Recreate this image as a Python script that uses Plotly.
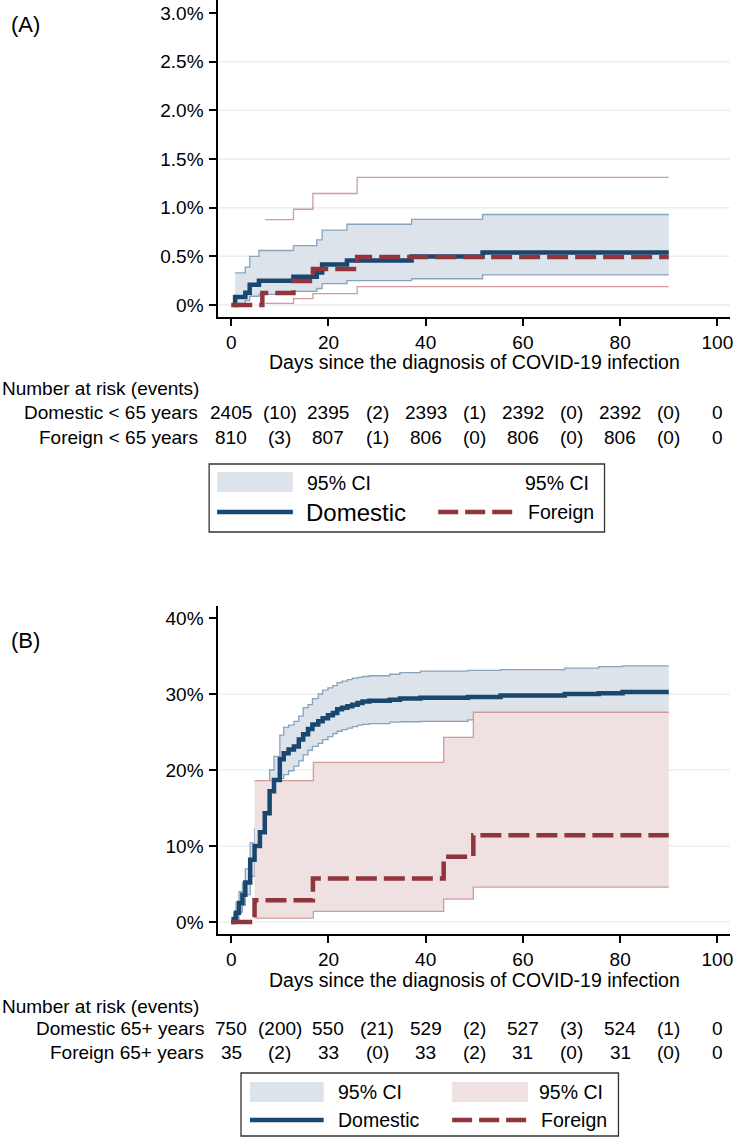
import plotly.graph_objects as go

# ---------------- DATA ----------------
# Panel A (< 65 years), cumulative incidence in %
dom_a_t = [0.5, 0.8, 2.9, 3.8, 5.7, 12.8, 17.6, 18.7, 23.8, 37.1, 51.7, 90]
dom_a_est = [0, 0.083, 0.125, 0.208, 0.249, 0.291, 0.333, 0.416, 0.457, 0.499, 0.540, 0.540]
dom_a_ci_t = [0.8, 2.9, 3.8, 5.7, 12.8, 17.6, 18.7, 23.8, 37.1, 51.7, 90]
dom_a_hi = [0.33, 0.39, 0.50, 0.56, 0.61, 0.67, 0.77, 0.83, 0.88, 0.93, 0.93]
dom_a_lo = [0.017, 0.045, 0.09, 0.11, 0.14, 0.17, 0.22, 0.25, 0.27, 0.31, 0.31]

for_a_t = [0, 6.4, 12.8, 16.8, 25.9, 90]
for_a_est = [0, 0.123, 0.247, 0.370, 0.494, 0.494]
for_a_ci_t = [7.0, 12.8, 16.8, 25.9, 90]
for_a_hi = [0.877, 0.984, 1.146, 1.311, 1.311]
for_a_lo = [0.017, 0.065, 0.117, 0.19, 0.19]

# Panel B (65+ years)
dom_b_t = [0, 0.5, 1.0, 1.6, 2.3, 2.9, 3.9, 4.8, 5.9, 6.9, 7.9, 8.8, 10.0, 10.8, 11.8,
           12.9, 13.9, 14.8, 15.8, 16.7, 17.9, 18.8, 19.9, 20.9, 21.8, 22.8, 23.9, 24.9,
           26.0, 27.0, 28.4, 32.6, 34.7, 38.9, 48.7, 55.4, 68.6, 75.6, 80.5, 90]
dom_b_est = [0, 0.4, 1.2, 2.5, 3.6, 5.2, 8.2, 10.0, 11.8, 14.3, 17.2, 18.7, 21.4, 22.2, 22.7,
             23.1, 24.0, 24.7, 25.4, 26.0, 26.4, 26.8, 27.2, 27.5, 28.0, 28.2, 28.4, 28.6,
             28.8, 29.0, 29.1, 29.25, 29.4, 29.5, 29.6, 29.8, 30.0, 30.1, 30.25, 30.25]
dom_b_hi = [0, 1.3, 2.6, 4.0, 5.2, 7.0, 10.4, 12.3, 14.6, 17.2, 20.0, 21.8, 24.6, 25.6, 25.9,
            26.4, 27.1, 28.2, 28.6, 29.4, 30.0, 30.5, 30.8, 31.1, 31.5, 31.7, 31.9, 32.1,
            32.2, 32.3, 32.4, 32.6, 32.8, 33.0, 33.1, 33.2, 33.4, 33.6, 33.7, 33.7]
dom_b_lo = [0, 0, 0.3, 1.3, 2.2, 3.6, 6.0, 7.8, 9.4, 11.8, 14.6, 16.5, 18.9, 19.4, 19.9,
            20.5, 21.2, 22.0, 22.6, 23.1, 23.5, 24.0, 24.4, 24.8, 25.1, 25.3, 25.5, 25.7,
            25.9, 26.0, 26.1, 26.3, 26.35, 26.4, 26.6, 26.9, 27.1, 27.3, 27.5, 27.5]

for_b_t = [0, 4.8, 16.8, 43.7, 49.8, 90]
for_b_est = [0, 2.86, 5.71, 8.57, 11.43, 11.43]
for_b_ci_t = [4.8, 16.9, 43.7, 49.8, 90]
for_b_hi = [18.6, 21.0, 24.3, 27.6, 27.6]
for_b_lo = [0.5, 1.4, 3.0, 4.6, 4.6]

# Risk tables
risk_days = [0, 20, 40, 60, 80, 100]
event_days = [10, 30, 50, 70, 90]
dom_a_atrisk = [2405, 2395, 2393, 2392, 2392, 0]
dom_a_events = [10, 2, 1, 0, 0]
for_a_atrisk = [810, 807, 806, 806, 806, 0]
for_a_events = [3, 1, 0, 0, 0]
dom_b_atrisk = [750, 550, 529, 527, 524, 0]
dom_b_events = [200, 21, 2, 3, 1]
for_b_atrisk = [35, 33, 33, 31, 31, 0]
for_b_events = [2, 0, 2, 0, 0]

x_ticks = [0, 20, 40, 60, 80, 100]
ya_ticks = [0, 0.5, 1.0, 1.5, 2.0, 2.5, 3.0]
ya_text = ["0%", "0.5%", "1.0%", "1.5%", "2.0%", "2.5%", "3.0%"]
yb_ticks = [0, 10, 20, 30, 40]
yb_text = ["0%", "10%", "20%", "30%", "40%"]

row_labels_a = ["Domestic < 65 years", "Foreign < 65 years"]
row_labels_b = ["Domestic 65+ years", "Foreign 65+ years"]
x_title = "Days since the diagnosis of COVID-19 infection"

# ---------------- STYLE ----------------
W, H = 735, 1139
FONT = "Liberation Sans, Arial, sans-serif"
NAVY = "#1a476f"
MAROON = "#90353b"
BLUE_FILL = "#dde3ea"
BLUE_CI = "#8aa3bd"
PINK_FILL = "#efe0e1"
PINK_CI = "#d39a9e"
GRID = "#e6f0f2"
DASH = "21px,7px"


def px(x):
    return x / W


def py(y):
    return 1 - y / H


fig = go.Figure()


def add_line(x, y, xa, ya, color, width, dash=None, fill=None, fillcolor=None):
    fig.add_trace(go.Scatter(
        x=x, y=y, xaxis=xa, yaxis=ya, mode="lines",
        line=dict(color=color, width=width, shape="hv", dash=dash),
        fill=fill, fillcolor=fillcolor, showlegend=False, hoverinfo="skip"))


# Panel A
add_line(dom_a_ci_t, dom_a_lo, "x", "y", BLUE_CI, 1.3)
add_line(dom_a_ci_t, dom_a_hi, "x", "y", BLUE_CI, 1.3, fill="tonexty", fillcolor=BLUE_FILL)
add_line(for_a_ci_t, for_a_lo, "x", "y", PINK_CI, 1.3)
add_line(for_a_ci_t, for_a_hi, "x", "y", PINK_CI, 1.3)
add_line(dom_a_t, dom_a_est, "x", "y", NAVY, 4.5)
add_line(for_a_t, for_a_est, "x", "y", MAROON, 4.5, dash=DASH)

# Panel B
add_line(dom_b_t, dom_b_lo, "x2", "y2", BLUE_CI, 1.3)
add_line(dom_b_t, dom_b_hi, "x2", "y2", BLUE_CI, 1.3, fill="tonexty", fillcolor=BLUE_FILL)
add_line(for_b_ci_t, for_b_lo, "x2", "y2", PINK_CI, 1.3)
add_line(for_b_ci_t, for_b_hi, "x2", "y2", PINK_CI, 1.3, fill="tonexty", fillcolor=PINK_FILL)
add_line(dom_b_t, dom_b_est, "x2", "y2", NAVY, 4.5)
add_line(for_b_t, for_b_est, "x2", "y2", MAROON, 4.5, dash=DASH)

xdom = [px(219), px(733)]
axis_common = dict(showline=True, linecolor="black", linewidth=1.5, ticks="outside",
                   ticklen=7, tickwidth=1.5, tickcolor="black", showgrid=False,
                   zeroline=False, tickfont=dict(family=FONT, size=19, color="black"))

fig.update_layout(
    width=W, height=H, margin=dict(l=0, r=0, t=0, b=0),
    paper_bgcolor="white", plot_bgcolor="white",
    font=dict(family=FONT, color="black"),
    xaxis=dict(domain=xdom, range=[-2.7, 102.6], anchor="y", tickvals=x_ticks,
               ticklabeloverflow="allow", **axis_common),
    yaxis=dict(domain=[py(317), 1.0], range=[-0.123, 3.134], anchor="x",
               tickvals=ya_ticks, ticktext=ya_text, ticklabelstandoff=2, **axis_common),
    xaxis2=dict(domain=xdom, range=[-2.7, 102.6], anchor="y2", tickvals=x_ticks,
                ticklabeloverflow="allow", **axis_common),
    yaxis2=dict(domain=[py(934), py(606)], range=[-1.58, 41.58], anchor="x2",
                tickvals=yb_ticks, ticktext=yb_text, ticklabelstandoff=2, **axis_common),
)

shapes = []
for v in ya_ticks[:-1]:
    shapes.append(dict(type="line", xref="x domain", yref="y", x0=0, x1=1, y0=v, y1=v,
                       line=dict(color=GRID, width=1.5), layer="below"))
for v in yb_ticks[:-1]:
    shapes.append(dict(type="line", xref="x2 domain", yref="y2", x0=0, x1=1, y0=v, y1=v,
                       line=dict(color=GRID, width=1.5), layer="below"))

ann = []


def text(x, y, s, size=19, xanchor="center", xref="paper"):
    ann.append(dict(x=x if xref != "paper" else px(x), y=py(y), xref=xref, yref="paper",
                    text=s, showarrow=False, xanchor=xanchor, yanchor="middle",
                    font=dict(family=FONT, size=size, color="black")))


# panel labels
text(9, 24, "(A)", size=22, xanchor="left")
text(9, 640, "(B)", size=22, xanchor="left")

# axis titles
text(50, 362, x_title, size=19.5, xref="x")
text(50, 980, x_title, size=19.5, xref="x2")


def risk_table(xref, y_head, y_dom, y_for, labels, lab_right, dom_r, dom_e, for_r, for_e):
    text(0, y_head, "Number at risk (events)", size=19, xanchor="left")
    text(lab_right, y_dom, labels[0], size=19, xanchor="right")
    text(lab_right, y_for, labels[1], size=19, xanchor="right")
    for d, v in zip(risk_days, dom_r):
        text(d, y_dom, str(v), size=19, xref=xref)
    for d, v in zip(event_days, dom_e):
        text(d, y_dom, "(%d)" % v, size=19, xref=xref)
    for d, v in zip(risk_days, for_r):
        text(d, y_for, str(v), size=19, xref=xref)
    for d, v in zip(event_days, for_e):
        text(d, y_for, "(%d)" % v, size=19, xref=xref)


risk_table("x", 388, 412, 437, row_labels_a, 201, dom_a_atrisk, dom_a_events,
           for_a_atrisk, for_a_events)
risk_table("x2", 1006, 1028, 1052, row_labels_b, 207, dom_b_atrisk, dom_b_events,
           for_b_atrisk, for_b_events)


def rect(x0, y0, x1, y1, fill=None, line=None):
    shapes.append(dict(type="rect", xref="paper", yref="paper", x0=px(x0), x1=px(x1),
                       y0=py(y1), y1=py(y0), fillcolor=fill if fill else "rgba(0,0,0,0)",
                       line=dict(color=line if line else "rgba(0,0,0,0)", width=1.3)))


def hline(x0, x1, y, color, width, dash=None):
    shapes.append(dict(type="line", xref="paper", yref="paper", x0=px(x0), x1=px(x1),
                       y0=py(y), y1=py(y), line=dict(color=color, width=width, dash=dash)))


# Legend A
rect(210, 464, 607, 532, line="#333333")
rect(218, 472, 294, 492, fill=BLUE_FILL)
text(306, 483, "95% CI", size=19.5, xanchor="left")
text(593, 483, "95% CI", size=19.5, xanchor="right")
hline(218, 294, 512, NAVY, 4.5)
text(305, 512, "Domestic", size=24, xanchor="left")
hline(440, 515, 512, MAROON, 4.5, dash="20px,7px")
text(528, 512, "Foreign", size=19.5, xanchor="left")

# Legend B
rect(242, 1073, 621, 1136, line="#333333")
rect(251, 1082, 325, 1102, fill=BLUE_FILL)
rect(454, 1082, 530, 1102, fill=PINK_FILL)
text(337, 1092, "95% CI", size=19.5, xanchor="left")
text(607, 1092, "95% CI", size=19.5, xanchor="right")
hline(251, 325, 1120, NAVY, 4.5)
text(337, 1120, "Domestic", size=19.5, xanchor="left")
hline(454, 530, 1120, MAROON, 4.5, dash="20px,7px")
text(541, 1120, "Foreign", size=19.5, xanchor="left")

fig.update_layout(shapes=shapes, annotations=ann)
fig.write_html("out.html", config={"displayModeBar": False},
               post_script="document.body.style.margin='0px';")
